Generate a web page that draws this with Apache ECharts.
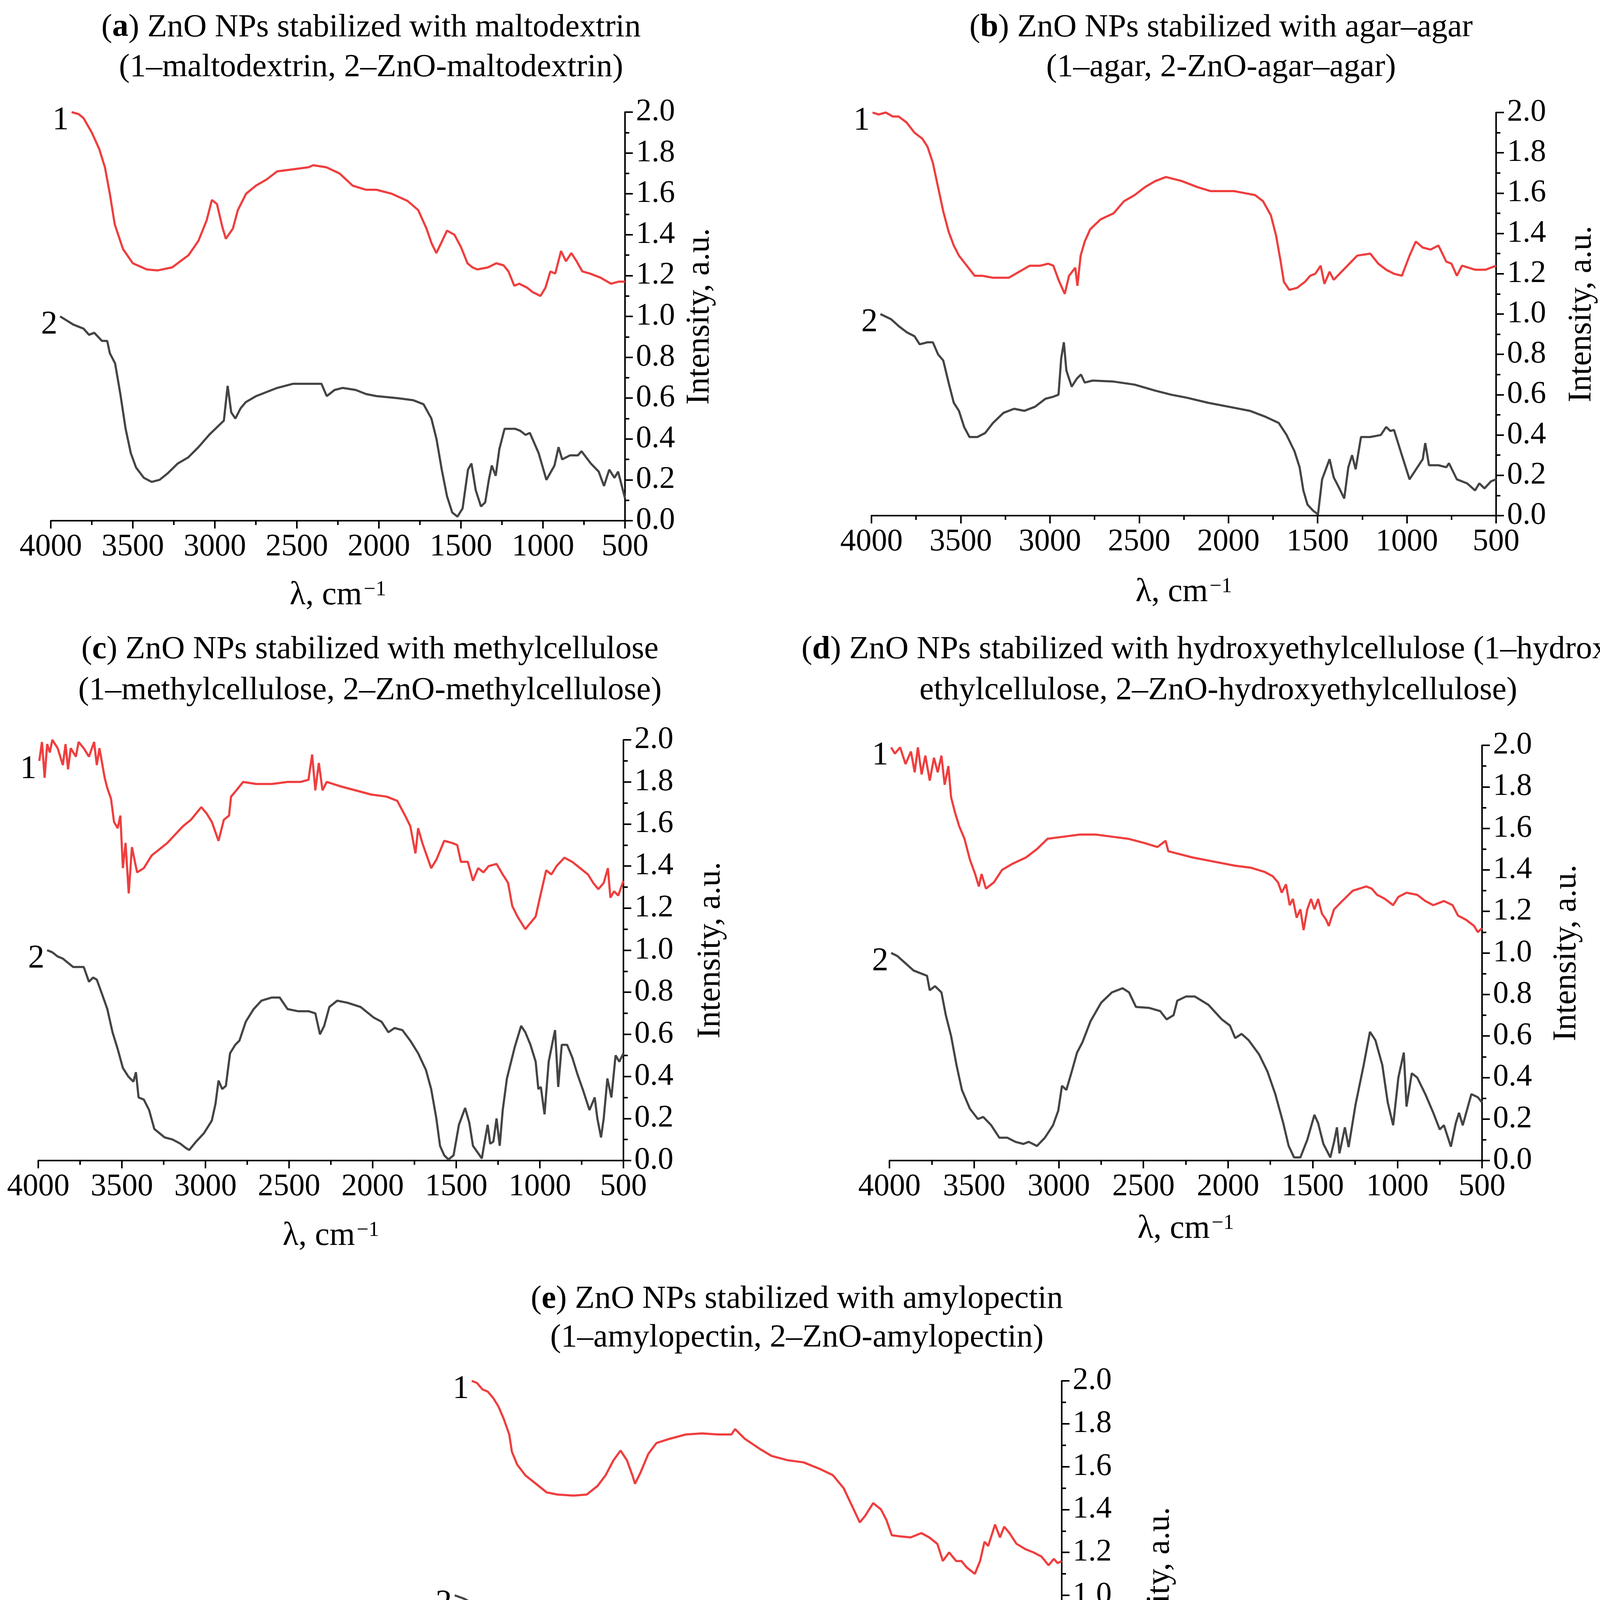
<!DOCTYPE html>
<html>
<head>
<meta charset="utf-8">
<title>FTIR spectra of ZnO NPs</title>
<script src="https://cdn.jsdelivr.net/npm/echarts/dist/echarts.min.js"></script>
<style>
  html, body { margin: 0; padding: 0; background: #fff; }
  #main { width: 4203px; height: 4892px; }
</style>
</head>
<body>
<div id="main"></div>
<script>
// x ticks and y ticks shared by all panels
var xTicks = [4000, 3500, 3000, 2500, 2000, 1500, 1000, 500];
var yTicks = [0.0, 0.2, 0.4, 0.6, 0.8, 1.0, 1.2, 1.4, 1.6, 1.8, 2.0];

// (a) maltodextrin  [wavenumber, intensity]
var maltoPure = [[3873,2.0],[3830,1.99],[3800,1.97],[3750,1.9],[3705,1.82],[3670,1.73],[3640,1.6],[3610,1.45],[3560,1.33],[3500,1.26],[3415,1.23],[3350,1.225],[3260,1.24],[3160,1.3],[3100,1.37],[3050,1.47],[3018,1.57],[2987,1.55],[2955,1.44],[2933,1.38],[2890,1.43],[2860,1.52],[2810,1.6],[2750,1.64],[2685,1.67],[2620,1.71],[2525,1.72],[2430,1.73],[2400,1.74],[2320,1.73],[2240,1.7],[2160,1.64],[2080,1.62],[2015,1.62],[1920,1.6],[1825,1.565],[1760,1.52],[1710,1.43],[1680,1.36],[1650,1.31],[1620,1.36],[1585,1.42],[1540,1.4],[1500,1.34],[1460,1.26],[1430,1.24],[1400,1.23],[1335,1.24],[1285,1.26],[1240,1.25],[1210,1.22],[1175,1.15],[1145,1.16],[1095,1.14],[1065,1.12],[1015,1.1],[985,1.14],[955,1.22],[925,1.21],[890,1.32],[860,1.27],[827,1.31],[795,1.27],[760,1.22],[715,1.21],[650,1.19],[585,1.16],[540,1.17],[500,1.17]];
var maltoZnO = [[3943,1.0],[3863,0.96],[3800,0.94],[3767,0.91],[3735,0.92],[3688,0.88],[3656,0.88],[3640,0.82],[3608,0.77],[3576,0.62],[3544,0.45],[3512,0.33],[3480,0.26],[3433,0.21],[3385,0.19],[3337,0.2],[3290,0.23],[3226,0.28],[3162,0.31],[3100,0.36],[3035,0.42],[2971,0.47],[2945,0.49],[2922,0.66],[2900,0.53],[2875,0.5],[2843,0.55],[2812,0.58],[2748,0.61],[2684,0.63],[2620,0.65],[2525,0.67],[2430,0.67],[2350,0.67],[2318,0.61],[2270,0.64],[2222,0.65],[2142,0.64],[2078,0.62],[2015,0.61],[1887,0.6],[1792,0.59],[1728,0.57],[1680,0.5],[1649,0.4],[1617,0.25],[1585,0.12],[1553,0.04],[1521,0.02],[1490,0.06],[1457,0.25],[1436,0.28],[1410,0.15],[1378,0.07],[1352,0.09],[1330,0.2],[1312,0.27],[1288,0.22],[1266,0.35],[1234,0.45],[1170,0.45],[1138,0.44],[1106,0.42],[1080,0.43],[1026,0.33],[979,0.2],[930,0.27],[905,0.36],[883,0.3],[835,0.32],[787,0.32],[765,0.34],[708,0.28],[660,0.24],[628,0.17],[596,0.25],[564,0.21],[542,0.24],[500,0.11]];

// (b) agar-agar
var agarPure = [[3994,2.0],[3960,1.99],[3920,2.0],[3880,1.98],[3847,1.98],[3803,1.95],[3759,1.9],[3715,1.87],[3686,1.83],[3656,1.75],[3627,1.63],[3598,1.51],[3568,1.41],[3539,1.34],[3510,1.29],[3466,1.24],[3422,1.19],[3378,1.19],[3319,1.18],[3231,1.18],[3172,1.21],[3113,1.24],[3054,1.24],[3010,1.25],[2981,1.24],[2952,1.17],[2917,1.1],[2893,1.19],[2858,1.23],[2846,1.14],[2828,1.29],[2805,1.36],[2775,1.42],[2716,1.47],[2643,1.5],[2585,1.56],[2526,1.59],[2467,1.63],[2409,1.66],[2350,1.68],[2262,1.66],[2174,1.63],[2101,1.61],[2027,1.61],[1968,1.61],[1909,1.6],[1850,1.59],[1806,1.56],[1762,1.49],[1733,1.39],[1709,1.27],[1689,1.16],[1659,1.12],[1615,1.13],[1571,1.16],[1542,1.19],[1513,1.2],[1483,1.24],[1462,1.15],[1433,1.21],[1410,1.17],[1366,1.21],[1322,1.25],[1278,1.29],[1205,1.3],[1160,1.25],[1116,1.22],[1072,1.2],[1028,1.19],[985,1.29],[950,1.36],[911,1.33],[867,1.32],[823,1.34],[779,1.26],[750,1.25],[720,1.19],[691,1.24],[618,1.22],[559,1.22],[500,1.24]];
var agarZnO = [[3950,1.0],[3891,0.975],[3847,0.94],[3803,0.91],[3759,0.89],[3730,0.85],[3686,0.86],[3656,0.86],[3627,0.8],[3598,0.77],[3568,0.66],[3539,0.56],[3510,0.52],[3481,0.44],[3451,0.39],[3407,0.39],[3363,0.41],[3319,0.46],[3260,0.51],[3201,0.53],[3143,0.52],[3084,0.54],[3025,0.58],[2981,0.59],[2952,0.6],[2937,0.78],[2922,0.86],[2908,0.72],[2878,0.64],[2849,0.68],[2826,0.7],[2805,0.66],[2761,0.67],[2643,0.665],[2526,0.65],[2409,0.62],[2321,0.6],[2233,0.585],[2115,0.56],[1997,0.54],[1880,0.52],[1791,0.49],[1718,0.46],[1674,0.4],[1630,0.32],[1601,0.24],[1580,0.125],[1557,0.055],[1527,0.026],[1498,0.006],[1475,0.18],[1433,0.28],[1410,0.19],[1381,0.14],[1351,0.085],[1328,0.24],[1307,0.3],[1287,0.23],[1257,0.39],[1205,0.39],[1146,0.4],[1116,0.44],[1093,0.42],[1072,0.425],[1028,0.3],[985,0.18],[941,0.24],[911,0.28],[897,0.36],[876,0.25],[823,0.25],[779,0.24],[764,0.26],[720,0.18],[662,0.16],[618,0.125],[594,0.16],[565,0.135],[529,0.17],[500,0.18]];

// (c) methylcellulose
var mcPure = [[3994,1.9],[3978,1.99],[3962,1.82],[3947,1.98],[3931,1.94],[3916,2.0],[3884,1.96],[3853,1.88],[3837,1.98],[3822,1.86],[3806,1.96],[3775,1.92],[3759,1.99],[3728,1.96],[3697,1.92],[3666,1.99],[3650,1.88],[3634,1.96],[3603,1.82],[3587,1.77],[3565,1.72],[3547,1.61],[3525,1.58],[3509,1.64],[3494,1.39],[3478,1.51],[3459,1.27],[3440,1.49],[3409,1.37],[3369,1.39],[3322,1.45],[3275,1.48],[3228,1.51],[3181,1.55],[3134,1.59],[3087,1.62],[3025,1.68],[2993,1.65],[2962,1.61],[2922,1.52],[2890,1.62],[2859,1.64],[2847,1.73],[2815,1.76],[2775,1.8],[2697,1.79],[2603,1.79],[2509,1.8],[2431,1.8],[2384,1.81],[2362,1.93],[2343,1.76],[2322,1.89],[2300,1.76],[2275,1.8],[2197,1.78],[2103,1.76],[2009,1.74],[1916,1.73],[1853,1.71],[1806,1.64],[1775,1.59],[1744,1.46],[1728,1.58],[1703,1.51],[1681,1.46],[1650,1.39],[1619,1.43],[1572,1.52],[1525,1.51],[1494,1.5],[1472,1.42],[1431,1.42],[1400,1.33],[1369,1.39],[1337,1.37],[1306,1.4],[1259,1.41],[1222,1.36],[1190,1.32],[1165,1.21],[1134,1.16],[1087,1.1],[1056,1.13],[1025,1.16],[994,1.27],[962,1.38],[931,1.36],[900,1.4],[853,1.44],[806,1.42],[759,1.39],[712,1.36],[681,1.32],[650,1.29],[618,1.32],[593,1.39],[578,1.25],[556,1.28],[531,1.26],[500,1.33]];
var mcZnO = [[3947,1.0],[3916,0.99],[3884,0.97],[3853,0.96],[3822,0.94],[3791,0.92],[3728,0.92],[3697,0.85],[3672,0.87],[3650,0.86],[3618,0.79],[3587,0.72],[3556,0.61],[3525,0.53],[3494,0.44],[3462,0.4],[3431,0.375],[3416,0.42],[3400,0.3],[3369,0.29],[3337,0.24],[3306,0.15],[3275,0.13],[3244,0.11],[3197,0.1],[3150,0.08],[3118,0.06],[3097,0.05],[3056,0.09],[3009,0.13],[2962,0.19],[2940,0.27],[2922,0.38],[2900,0.34],[2878,0.355],[2853,0.51],[2822,0.55],[2797,0.57],[2759,0.66],[2712,0.72],[2665,0.76],[2603,0.775],[2556,0.775],[2509,0.72],[2447,0.71],[2384,0.71],[2343,0.7],[2315,0.6],[2290,0.64],[2259,0.73],[2212,0.76],[2150,0.75],[2072,0.73],[1994,0.68],[1947,0.66],[1906,0.61],[1869,0.63],[1822,0.62],[1775,0.57],[1728,0.51],[1681,0.43],[1650,0.34],[1619,0.2],[1597,0.07],[1572,0.025],[1547,0.005],[1516,0.025],[1484,0.17],[1447,0.25],[1422,0.18],[1400,0.07],[1369,0.035],[1347,0.01],[1328,0.1],[1312,0.17],[1297,0.08],[1278,0.09],[1259,0.2],[1240,0.07],[1222,0.24],[1197,0.39],[1150,0.54],[1112,0.64],[1087,0.61],[1056,0.55],[1025,0.47],[1009,0.34],[994,0.35],[972,0.22],[947,0.47],[922,0.57],[909,0.62],[890,0.35],[869,0.55],[837,0.55],[806,0.49],[775,0.41],[744,0.34],[703,0.24],[672,0.3],[656,0.2],[634,0.11],[618,0.2],[596,0.39],[572,0.3],[547,0.5],[525,0.47],[500,0.51]];

// (d) hydroxyethylcellulose
var hecPure = [[3990,1.99],[3968,1.96],[3937,1.99],[3905,1.91],[3873,1.97],[3851,1.87],[3832,1.99],[3810,1.86],[3788,1.95],[3762,1.83],[3737,1.94],[3715,1.87],[3693,1.95],[3674,1.81],[3652,1.9],[3636,1.75],[3614,1.68],[3588,1.61],[3557,1.55],[3525,1.45],[3494,1.38],[3472,1.32],[3456,1.38],[3430,1.31],[3383,1.34],[3335,1.4],[3272,1.43],[3193,1.46],[3129,1.5],[3066,1.55],[2971,1.56],[2876,1.57],[2781,1.57],[2686,1.56],[2591,1.55],[2496,1.53],[2417,1.51],[2369,1.54],[2353,1.49],[2306,1.48],[2211,1.46],[2085,1.44],[1958,1.42],[1863,1.41],[1784,1.39],[1737,1.37],[1705,1.34],[1683,1.29],[1658,1.33],[1636,1.23],[1617,1.26],[1595,1.17],[1573,1.21],[1554,1.11],[1532,1.21],[1510,1.26],[1490,1.21],[1468,1.26],[1446,1.19],[1421,1.16],[1405,1.13],[1374,1.21],[1326,1.25],[1263,1.3],[1184,1.32],[1152,1.31],[1120,1.28],[1073,1.26],[1025,1.23],[994,1.27],[946,1.29],[883,1.28],[835,1.25],[788,1.23],[725,1.25],[674,1.23],[642,1.18],[595,1.16],[547,1.13],[525,1.1],[500,1.12]];
var hecZnO = [[3990,1.0],[3953,0.985],[3905,0.95],[3857,0.915],[3810,0.9],[3778,0.89],[3762,0.82],[3731,0.84],[3693,0.81],[3667,0.7],[3636,0.6],[3604,0.46],[3572,0.34],[3525,0.25],[3478,0.2],[3446,0.21],[3399,0.17],[3351,0.11],[3304,0.11],[3256,0.09],[3209,0.08],[3177,0.09],[3129,0.07],[3082,0.11],[3034,0.17],[3003,0.24],[2981,0.36],[2955,0.34],[2923,0.43],[2892,0.52],[2860,0.57],[2813,0.67],[2750,0.76],[2686,0.81],[2623,0.83],[2585,0.81],[2544,0.74],[2465,0.735],[2401,0.72],[2363,0.68],[2322,0.7],[2300,0.77],[2249,0.79],[2196,0.79],[2116,0.75],[2037,0.68],[1989,0.65],[1958,0.59],[1920,0.61],[1879,0.58],[1816,0.51],[1768,0.43],[1721,0.32],[1674,0.18],[1642,0.07],[1610,0.015],[1573,0.015],[1532,0.1],[1490,0.22],[1468,0.18],[1437,0.08],[1396,0.015],[1374,0.09],[1357,0.16],[1342,0.035],[1310,0.16],[1288,0.065],[1247,0.27],[1199,0.46],[1162,0.62],[1130,0.58],[1089,0.46],[1057,0.28],[1025,0.17],[994,0.4],[962,0.52],[946,0.26],[915,0.42],[883,0.4],[835,0.32],[788,0.23],[750,0.15],[725,0.17],[684,0.067],[655,0.18],[636,0.23],[614,0.17],[563,0.32],[525,0.305],[500,0.28]];

// (e) amylopectin
var amyPure = [[3854,2.0],[3824,1.99],[3793,1.96],[3763,1.95],[3732,1.92],[3702,1.88],[3671,1.82],[3641,1.75],[3626,1.67],[3596,1.61],[3550,1.56],[3489,1.52],[3428,1.48],[3367,1.47],[3276,1.465],[3200,1.47],[3139,1.51],[3093,1.56],[3048,1.63],[3008,1.675],[2972,1.63],[2941,1.56],[2926,1.52],[2896,1.57],[2850,1.66],[2804,1.71],[2728,1.73],[2637,1.75],[2545,1.755],[2454,1.75],[2378,1.75],[2357,1.775],[2302,1.73],[2211,1.68],[2150,1.65],[2059,1.63],[1968,1.62],[1877,1.59],[1801,1.56],[1740,1.5],[1694,1.42],[1648,1.34],[1618,1.37],[1572,1.43],[1527,1.4],[1496,1.35],[1466,1.28],[1420,1.275],[1359,1.27],[1298,1.29],[1253,1.27],[1207,1.24],[1176,1.16],[1140,1.2],[1100,1.16],[1070,1.16],[1040,1.13],[994,1.1],[964,1.16],[939,1.25],[918,1.23],[879,1.33],[851,1.27],[827,1.32],[797,1.29],[757,1.24],[706,1.215],[660,1.2],[614,1.18],[575,1.14],[545,1.17],[523,1.15],[500,1.16]];
var amyZnO = [[3951,1.0],[3900,0.985],[3854,0.965],[3808,0.94],[3778,0.93],[3732,0.94],[3702,0.895],[3671,0.9],[3641,0.89],[3617,0.815],[3587,0.72],[3565,0.57],[3535,0.4],[3504,0.3],[3459,0.23],[3413,0.19],[3367,0.175],[3322,0.2],[3261,0.27],[3185,0.32],[3109,0.39],[3033,0.45],[2972,0.455],[2941,0.465],[2923,0.63],[2905,0.51],[2880,0.465],[2850,0.55],[2820,0.6],[2798,0.57],[2774,0.63],[2713,0.655],[2652,0.69],[2576,0.71],[2500,0.717],[2424,0.7],[2363,0.705],[2333,0.68],[2311,0.645],[2272,0.675],[2211,0.69],[2120,0.665],[1999,0.645],[1877,0.635],[1786,0.62],[1725,0.58],[1679,0.49],[1649,0.36],[1628,0.23],[1604,0.085],[1573,0.01],[1512,0.01],[1481,0.095],[1445,0.21],[1420,0.095],[1396,0.013],[1353,0.04],[1329,0.15],[1308,0.23],[1290,0.17],[1253,0.455],[1207,0.5],[1146,0.53],[1116,0.55],[1101,0.56],[1079,0.545],[1055,0.455],[1024,0.34],[1000,0.23],[973,0.21],[948,0.33],[918,0.36],[903,0.375],[882,0.29],[827,0.3],[766,0.325],[721,0.31],[675,0.275],[645,0.15],[624,0.105],[593,0.245],[569,0.16],[545,0.2],[523,0.105],[500,0.01]];

var FONT = '"Liberation Serif", "Times New Roman", serif';
var RED = '#ef3e3e';
var GREY = '#444444';

// layout of the five panels (pixels)
var panels = [
  { letter: 'a', line1: ' ZnO NPs stabilized with maltodextrin', line2: '(1–maltodextrin, 2–ZnO-maltodextrin)',
    cx: 945, ty: 15, lh: 102, grid: [130, 287, 1470, 1046], yGap: 150, xGap: 150, curves: [maltoPure, maltoZnO] },
  { letter: 'b', line1: ' ZnO NPs stabilized with agar–agar', line2: '(1–agar, 2-ZnO-agar–agar)',
    cx: 3121, ty: 15, lh: 102, grid: [2231, 288, 1599, 1032], yGap: 178, xGap: 155, curves: [agarPure, agarZnO] },
  { letter: 'c', line1: ' ZnO NPs stabilized with methylcellulose', line2: '(1–methylcellulose, 2–ZnO-methylcellulose)',
    cx: 942, ty: 1606, lh: 105, grid: [98, 1894, 1498, 1077], yGap: 182, xGap: 152, curves: [mcPure, mcZnO] },
  { letter: 'd', line1: ' ZnO NPs stabilized with hydroxyethylcellulose (1–hydroxy-', line2: 'ethylcellulose, 2–ZnO-hydroxyethylcellulose)',
    cx: 3114, ty: 1606, lh: 105, grid: [2277, 1908, 1517, 1063], yGap: 175, xGap: 134, curves: [hecPure, hecZnO] },
  { letter: 'e', line1: ' ZnO NPs stabilized with amylopectin', line2: '(1–amylopectin, 2–ZnO-amylopectin)',
    cx: 2035, ty: 3272, lh: 99, grid: [1142, 3535, 1576, 1098], yGap: 210, xGap: 155, curves: [amyPure, amyZnO] }
];

var titles = [], grids = [], xAxes = [], yAxes = [], series = [];

panels.forEach(function (p, i) {
  titles.push({
    text: '{p|(}{b|' + p.letter + '}{p|)' + p.line1 + '}\n{p|' + p.line2 + '}',
    left: p.cx, top: p.ty, textAlign: 'center',
    textStyle: {
      fontFamily: FONT, fontSize: 83, fontWeight: 'normal', color: '#000', lineHeight: p.lh,
      rich: {
        p: { fontFamily: FONT, fontSize: 83, lineHeight: p.lh, fontWeight: 'normal', color: '#000' },
        b: { fontFamily: FONT, fontSize: 83, lineHeight: p.lh, fontWeight: 'bold', color: '#000' }
      }
    }
  });
  grids.push({ left: p.grid[0], top: p.grid[1], width: p.grid[2], height: p.grid[3], containLabel: false });
  xAxes.push({
    gridIndex: i, type: 'value', min: 500, max: 4000, interval: 500, inverse: true,
    name: '{n|λ, cm}{s|−1}', nameLocation: 'middle', nameGap: p.xGap,
    nameTextStyle: {
      rich: {
        n: { fontFamily: FONT, fontSize: 84, color: '#000', lineHeight: 84 },
        s: { fontFamily: FONT, fontSize: 54, color: '#000', lineHeight: 54, verticalAlign: 'top', padding: [0, 0, 0, 4] }
      }
    },
    axisLine: { show: true, onZero: false, lineStyle: { color: '#000', width: 4 } },
    axisTick: { show: true, length: 20, lineStyle: { color: '#000', width: 4 } },
    minorTick: { show: true, splitNumber: 2, length: 11, lineStyle: { color: '#000', width: 4 } },
    axisLabel: { fontFamily: FONT, fontSize: 80, color: '#000', margin: 28, showMinLabel: true, showMaxLabel: true,
      formatter: function (v) { return String(v); } },
    splitLine: { show: false }
  });
  yAxes.push({
    gridIndex: i, type: 'value', position: 'right', min: 0, max: 2, interval: 0.2,
    name: 'Intensity, a.u.', nameLocation: 'middle', nameGap: p.yGap, nameRotate: 90,
    nameTextStyle: { fontFamily: FONT, fontSize: 84, color: '#000' },
    axisLine: { show: true, onZero: false, lineStyle: { color: '#000', width: 4 } },
    axisTick: { show: true, length: 20, lineStyle: { color: '#000', width: 4 } },
    minorTick: { show: true, splitNumber: 2, length: 11, lineStyle: { color: '#000', width: 4 } },
    axisLabel: { fontFamily: FONT, fontSize: 80, color: '#000', margin: 28,
      formatter: function (v) { return v.toFixed(1); } },
    splitLine: { show: false }
  });
  p.curves.forEach(function (data, k) {
    series.push({
      type: 'line', xAxisIndex: i, yAxisIndex: i, data: data,
      showSymbol: false, symbol: 'none', smooth: false, silent: true,
      lineStyle: { color: k === 0 ? RED : GREY, width: 5.5 },
      markPoint: {
        symbol: 'circle', symbolSize: 2, silent: true,
        itemStyle: { color: 'rgba(0,0,0,0)' },
        label: { show: true, position: 'left', distance: 6, offset: [0, 22],
          formatter: String(k + 1), fontFamily: FONT, fontSize: 84, color: '#000' },
        data: [{ coord: data[0] }]
      }
    });
  });
});

var chart = echarts.init(document.getElementById('main'), null, { renderer: 'canvas' });
chart.setOption({
  backgroundColor: '#ffffff',
  animation: false,
  title: titles,
  grid: grids,
  xAxis: xAxes,
  yAxis: yAxes,
  series: series
});
</script>
</body>
</html>
